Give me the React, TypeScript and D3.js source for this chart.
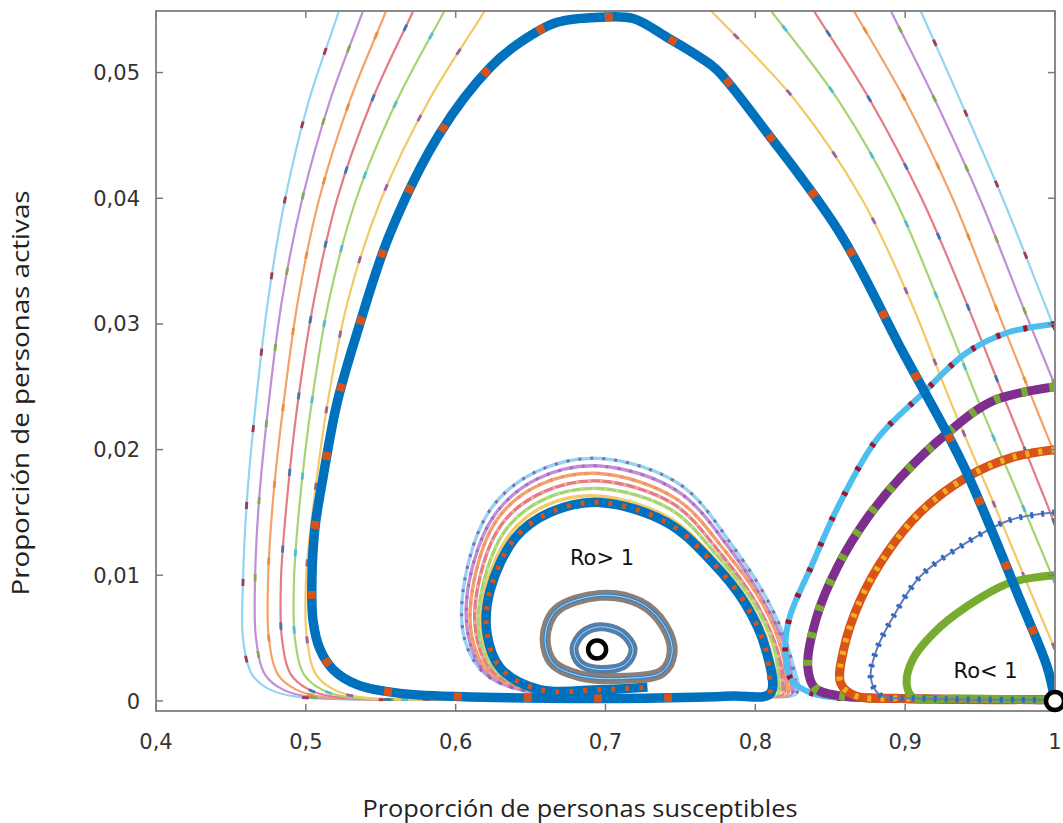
import React from 'react';
import * as d3 from 'd3';

type P = [number, number];

// ---------- axes ----------
const xTicks = [0.4, 0.5, 0.6, 0.7, 0.8, 0.9, 1.0];
const xTickLabels = ['0,4', '0,5', '0,6', '0,7', '0,8', '0,9', '1'];
const yTicks = [0, 0.01, 0.02, 0.03, 0.04, 0.05];
const yTickLabels = ['0', '0,01', '0,02', '0,03', '0,04', '0,05'];
const xTitle = 'Proporción de personas susceptibles';
const yTitle = 'Proporción de personas activas';

// ---------- Ro > 1 trajectories (S, I) ----------
// right branch (leaving through the top), left branch (re-entering), bottom run
const lightBlueOuter: P[] = [[1.0, 0.0295], [0.9921, 0.0319], [0.9654, 0.0399], [0.9367, 0.0478], [0.91, 0.055], [0.8893, 0.0605], [0.5362, 0.0605], [0.5215, 0.0547], [0.5021, 0.0478], [0.4861, 0.0399], [0.4748, 0.0319], [0.4668, 0.0239], [0.4607, 0.016], [0.4581, 0.0096], [0.4581, 0.0049], [0.4641, 0.0021], [0.4761, 0.0009], [0.4961, 0.0003], [0.63, 0.0002], [0.75, 0.0003], [0.8, 0.0004]];
const lightBlueHump: P[] = [[0.828, 0.0006], [0.823, 0.0038], [0.81, 0.0076], [0.785, 0.0123], [0.75, 0.0172], [0.696, 0.0193], [0.653, 0.0182], [0.623, 0.0152], [0.606, 0.0096], [0.606, 0.0049], [0.62, 0.0021], [0.65, 0.0007], [0.696, 0.0006]];

const purpleOuter: P[] = [[1.0, 0.0251], [0.9768, 0.0319], [0.9501, 0.0399], [0.92, 0.0478], [0.89, 0.055], [0.8666, 0.0605], [0.5555, 0.0605], [0.5375, 0.0547], [0.5162, 0.0478], [0.4975, 0.0399], [0.4841, 0.0319], [0.4754, 0.0239], [0.4688, 0.016], [0.4661, 0.0096], [0.4668, 0.0049], [0.4728, 0.0021], [0.4848, 0.0009], [0.5041, 0.0003], [0.63, 0.0002], [0.75, 0.0003], [0.797, 0.0004]];
const purpleHump: P[] = [[0.825, 0.0006], [0.821, 0.0039], [0.807, 0.0076], [0.783, 0.0121], [0.748, 0.0167], [0.696, 0.0187], [0.655, 0.0177], [0.626, 0.0148], [0.609, 0.0095], [0.609, 0.0049], [0.621, 0.0021], [0.651, 0.0007], [0.696, 0.0006]];

const orangeOuter: P[] = [[1.0, 0.0196], [0.9854, 0.0239], [0.9587, 0.0319], [0.932, 0.0399], [0.9, 0.0478], [0.8653, 0.055], [0.8386, 0.0605], [0.5722, 0.0605], [0.5529, 0.0547], [0.5295, 0.0478], [0.5088, 0.0399], [0.4948, 0.0319], [0.4854, 0.0239], [0.4781, 0.016], [0.4748, 0.0096], [0.4754, 0.0049], [0.4814, 0.0021], [0.4935, 0.0009], [0.5121, 0.0003], [0.63, 0.0002], [0.75, 0.0003], [0.794, 0.0004]];
const orangeHump: P[] = [[0.822, 0.0006], [0.818, 0.0039], [0.805, 0.0077], [0.78, 0.0119], [0.747, 0.0161], [0.696, 0.0181], [0.656, 0.0172], [0.628, 0.0145], [0.612, 0.0094], [0.611, 0.005], [0.623, 0.0022], [0.652, 0.0008], [0.696, 0.0007]];

const redOuter: P[] = [[1.0, 0.014], [0.9935, 0.016], [0.9668, 0.0239], [0.9401, 0.0319], [0.9113, 0.0399], [0.8766, 0.0478], [0.8386, 0.055], [0.8092, 0.0605], [0.5936, 0.0605], [0.5709, 0.0547], [0.5442, 0.0478], [0.5208, 0.0399], [0.5055, 0.0319], [0.4948, 0.0239], [0.4874, 0.016], [0.4834, 0.0096], [0.4841, 0.0049], [0.4901, 0.0021], [0.5021, 0.0009], [0.5202, 0.0003], [0.63, 0.0002], [0.75, 0.0003], [0.791, 0.0004]];
const redHump: P[] = [[0.819, 0.0006], [0.815, 0.0039], [0.801, 0.0077], [0.777, 0.0117], [0.745, 0.0157], [0.696, 0.0175], [0.658, 0.0166], [0.631, 0.0141], [0.615, 0.0092], [0.614, 0.0051], [0.625, 0.0023], [0.653, 0.0008], [0.696, 0.0007]];

const greenOuter: P[] = [[1.0, 0.0094], [0.9768, 0.016], [0.9487, 0.0239], [0.922, 0.0319], [0.8933, 0.0399], [0.8553, 0.0478], [0.8099, 0.055], [0.7745, 0.0605], [0.6176, 0.0605], [0.5916, 0.0547], [0.5609, 0.0478], [0.5335, 0.0399], [0.5155, 0.0319], [0.5041, 0.0239], [0.4961, 0.016], [0.4921, 0.0096], [0.4928, 0.0049], [0.4988, 0.0021], [0.5108, 0.0009], [0.5282, 0.0003], [0.64, 0.0002], [0.75, 0.0003], [0.788, 0.0004]];
const greenHump: P[] = [[0.816, 0.0006], [0.813, 0.004], [0.799, 0.0078], [0.775, 0.0115], [0.744, 0.0152], [0.696, 0.0169], [0.66, 0.0161], [0.634, 0.0137], [0.618, 0.0091], [0.616, 0.0051], [0.626, 0.0025], [0.654, 0.0008], [0.696, 0.0008]];

const yellowOuter: P[] = [[1.0, 0.0041], [0.9861, 0.008], [0.9581, 0.016], [0.93, 0.0239], [0.9033, 0.0319], [0.8713, 0.0399], [0.8266, 0.0478], [0.7698, 0.055], [0.7258, 0.0605], [0.6483, 0.0605], [0.6183, 0.0547], [0.5822, 0.0478], [0.5502, 0.0399], [0.5282, 0.0319], [0.5148, 0.0239], [0.5055, 0.016], [0.5001, 0.0096], [0.5008, 0.0049], [0.5068, 0.0021], [0.5188, 0.0009], [0.5362, 0.0003], [0.65, 0.0002], [0.75, 0.0003], [0.785, 0.0004]];
const yellowHump: P[] = [[0.813, 0.0006], [0.81, 0.004], [0.796, 0.0078], [0.772, 0.0114], [0.742, 0.0146], [0.696, 0.0163], [0.661, 0.0156], [0.637, 0.0134], [0.62, 0.009], [0.618, 0.0052], [0.628, 0.0025], [0.655, 0.0009], [0.696, 0.0008]];

const blueOuter: P[] = [[1.0, 0.0], [0.9948, 0.0027], [0.9768, 0.008], [0.9587, 0.0133], [0.9414, 0.0181], [0.928, 0.0213], [0.8987, 0.0277], [0.8566, 0.0372], [0.8079, 0.0452], [0.7745, 0.0502], [0.7632, 0.0512], [0.7411, 0.0528], [0.7184, 0.0543], [0.6964, 0.0544], [0.6677, 0.054], [0.643, 0.0524], [0.623, 0.0504], [0.5896, 0.0452], [0.5562, 0.0372], [0.5342, 0.0293], [0.5208, 0.0237], [0.5115, 0.0178], [0.5061, 0.0138], [0.5041, 0.0099], [0.5048, 0.0064], [0.5095, 0.0041], [0.5182, 0.0025], [0.5342, 0.0013], [0.5629, 0.0006], [0.6183, 0.0003], [0.6964, 0.0002], [0.76, 0.0003], [0.785, 0.0004]];
const blueHump: P[] = [[0.81, 0.0006], [0.807, 0.0041], [0.793, 0.0078], [0.77, 0.0112], [0.741, 0.0142], [0.696, 0.0158], [0.663, 0.015], [0.64, 0.013], [0.623, 0.0088], [0.621, 0.0053], [0.63, 0.0026], [0.656, 0.0009], [0.696, 0.0009], [0.728, 0.0011]];

// inner loops around the endemic equilibrium
const ringOuter: P[] = [[0.6964, 0.0084], [0.7231, 0.0078], [0.7391, 0.006], [0.7445, 0.0039], [0.7378, 0.0023], [0.7131, 0.0018], [0.683, 0.002], [0.665, 0.003], [0.6597, 0.005], [0.667, 0.0072]];
const ringInner: P[] = [[0.6964, 0.0059], [0.7111, 0.0054], [0.7184, 0.0041], [0.7131, 0.0029], [0.6964, 0.0025], [0.683, 0.003], [0.679, 0.0042], [0.685, 0.0054]];

// ---------- Ro < 1 trajectories ----------
const arcLightBlue: P[] = [[1.0, 0.03], [0.968, 0.0293], [0.941, 0.0277], [0.912, 0.0245], [0.881, 0.0208], [0.855, 0.0154], [0.837, 0.0106], [0.823, 0.0067], [0.82, 0.0041], [0.824, 0.0017], [0.838, 0.0006], [0.863, 0.0002], [0.93, 0.0002], [1.0, 0.0001]];
const arcPurple: P[] = [[1.0, 0.025], [0.959, 0.0239], [0.928, 0.0213], [0.897, 0.0178], [0.875, 0.0146], [0.855, 0.0107], [0.841, 0.0067], [0.835, 0.0027], [0.84, 0.001], [0.857, 0.0004], [0.897, 0.0002], [1.0, 0.0001]];
const arcOrange: P[] = [[1.0, 0.02], [0.972, 0.0194], [0.941, 0.0178], [0.91, 0.015], [0.888, 0.0118], [0.87, 0.008], [0.859, 0.0041], [0.857, 0.0014], [0.867, 0.0004], [0.897, 0.0002], [1.0, 0.0001]];
const arcDotted: P[] = [[1.0, 0.015], [0.97, 0.0144], [0.937, 0.0123], [0.91, 0.0099], [0.892, 0.0067], [0.881, 0.0041], [0.877, 0.0019], [0.883, 0.0005], [0.91, 0.0002], [1.0, 0.0001]];
const arcGreen: P[] = [[1.0, 0.01], [0.97, 0.0094], [0.941, 0.0075], [0.919, 0.0054], [0.905, 0.0033], [0.901, 0.0014], [0.905, 0.0003], [0.937, 0.0002], [1.0, 0.0001]];

const equilibria: P[] = [[0.6944, 0.0041], [1.0, 0.0]];
const annotations = [
  { text: 'Ro> 1', s: 0.6977, i: 0.0108 },
  { text: 'Ro< 1', s: 0.9537, i: 0.0018 },
];

const thinTrajectories = [
  { outer: lightBlueOuter, hump: lightBlueHump, color: '#93d5f1', mark: '#a2142f', humpMark: '#8e5aa8' },
  { outer: purpleOuter, hump: purpleHump, color: '#c28ed6', mark: '#77ac30', humpMark: '#a06ab8' },
  { outer: orangeOuter, hump: orangeHump, color: '#f2a36c', mark: '#e88a2a', humpMark: '#f08a7a' },
  { outer: redOuter, hump: redHump, color: '#e47b86', mark: '#1f6fb5', humpMark: '#f0b0a0' },
  { outer: greenOuter, hump: greenHump, color: '#a6d472', mark: '#3fb6e0', humpMark: '#bfe090' },
  { outer: yellowOuter, hump: yellowHump, color: '#f3c966', mark: '#8a4aa0', humpMark: '#f3d27a' },
];

const W = 1063;
const H = 823;
const L = 156, R = 1055, T = 11, B = 711;

export default function App() {
  const x = d3.scaleLinear().domain([0.4, 1.0]).range([L, R]);
  const y = d3.scaleLinear().domain([-0.0008, 0.0549]).range([B, T]);
  const line = d3.line<P>().x(d => x(d[0])).y(d => y(d[1])).curve(d3.curveCatmullRom.alpha(0.5));
  const loop = d3.line<P>().x(d => x(d[0])).y(d => y(d[1])).curve(d3.curveCatmullRomClosed.alpha(0.5));
  const tickColor = '#7c7c7c';

  return (
    <svg width={W} height={H} style={{ position: 'absolute', left: 0, top: 0, background: '#fff' }}>
      <defs>
        <clipPath id="plot">
          <rect x={L} y={T} width={R - L} height={B - T} />
        </clipPath>
      </defs>
      <rect x={0} y={0} width={W} height={H} fill="#fff" />
      <g clipPath="url(#plot)" fill="none" strokeLinejoin="round">
        {/* thin Ro>1 trajectories */}
        {thinTrajectories.map((t, i) => (
          <path key={'tb' + i} d={line([...t.outer, ...t.hump]) || ''} stroke={t.color} strokeWidth={2.2} />
        ))}
        {thinTrajectories.map((t, i) => (
          <path key={'th' + i} d={line(t.hump) || ''} stroke={t.color} strokeWidth={3.4} />
        ))}
        {thinTrajectories.map((t, i) => (
          <g key={'tm' + i}>
            <path d={line(t.outer) || ''} stroke={t.mark} strokeWidth={3} strokeDasharray="7 70" opacity={0.8} />
            <path d={line(t.hump) || ''} stroke={t.humpMark} strokeWidth={3} strokeDasharray="3 9" opacity={0.9} />
          </g>
        ))}
        {/* Ro<1 arcs */}
        <path d={line(arcLightBlue) || ''} stroke="#4dbeee" strokeWidth={6} />
        <path d={line(arcLightBlue) || ''} stroke="#a2142f" strokeWidth={6} strokeDasharray="4 24" />
        <path d={line(arcPurple) || ''} stroke="#7e2f8e" strokeWidth={9} />
        <path d={line(arcPurple) || ''} stroke="#77ac30" strokeWidth={9} strokeDasharray="6 22" />
        <path d={line(arcOrange) || ''} stroke="#d95319" strokeWidth={9} />
        <path d={line(arcOrange) || ''} stroke="#edb120" strokeWidth={6} strokeDasharray="4 9" />
        <path d={line(arcGreen) || ''} stroke="#77ac30" strokeWidth={8} />
        <path d={line(arcDotted) || ''} stroke="#6a78b8" strokeWidth={2} />
        <path d={line(arcDotted) || ''} stroke="#2a6cc0" strokeWidth={6} strokeDasharray="3 8" />
        {/* main blue trajectory */}
        <path d={line([...blueOuter, ...blueHump]) || ''} stroke="#0072bd" strokeWidth={9.5} />
        <path d={line(blueOuter) || ''} stroke="#d95319" strokeWidth={8} strokeDasharray="8 62" />
        <path d={line(blueHump) || ''} stroke="#d95319" strokeWidth={5} strokeDasharray="4 10" />
        {/* inner loops */}
        <path d={loop(ringOuter) || ''} stroke="#8b7f78" strokeWidth={11} />
        <path d={loop(ringOuter) || ''} stroke="#3c82c4" strokeWidth={3.5} />
        <path d={loop(ringOuter) || ''} stroke="#a8dcf4" strokeWidth={1} />
        <path d={loop(ringInner) || ''} stroke="#5c7d9c" strokeWidth={9} />
        <path d={loop(ringInner) || ''} stroke="#3c82c4" strokeWidth={3.5} />
        <path d={loop(ringInner) || ''} stroke="#a8dcf4" strokeWidth={1} />
      </g>
      {/* frame */}
      <rect x={L} y={T} width={R - L} height={B - T} fill="none" stroke="#8a8a8a" strokeWidth={2} />
      {xTicks.map((t, i) => (
        <g key={'xt' + i}>
          <line x1={x(t)} x2={x(t)} y1={B} y2={B - 7} stroke={tickColor} strokeWidth={1.5} />
          <line x1={x(t)} x2={x(t)} y1={T} y2={T + 7} stroke={tickColor} strokeWidth={1.5} />
          <text x={x(t)} y={749} textAnchor="middle" fontFamily="DejaVu Sans, Verdana, sans-serif" fontSize={21} fill="#333">{xTickLabels[i]}</text>
        </g>
      ))}
      {yTicks.map((t, i) => (
        <g key={'yt' + i}>
          <line x1={L} x2={L + 7} y1={y(t)} y2={y(t)} stroke={tickColor} strokeWidth={1.5} />
          <line x1={R} x2={R - 7} y1={y(t)} y2={y(t)} stroke={tickColor} strokeWidth={1.5} />
          <text x={140} y={y(t)} dy="0.36em" textAnchor="end" fontFamily="DejaVu Sans, Verdana, sans-serif" fontSize={21} fill="#333">{yTickLabels[i]}</text>
        </g>
      ))}
      {/* equilibrium points */}
      {equilibria.map((p, i) => (
        <circle key={'eq' + i} cx={x(p[0])} cy={y(p[1])} r={9} fill="#fff" stroke="#000" strokeWidth={4.5} />
      ))}
      {annotations.map((a, i) => (
        <text key={'an' + i} x={x(a.s)} y={y(a.i)} textAnchor="middle" fontFamily="DejaVu Sans, Verdana, sans-serif" fontSize={21} fill="#111">{a.text}</text>
      ))}
      <text x={580} y={817} textAnchor="middle" fontFamily="Open Sans, sans-serif" fontSize={23} fill="#222" textLength={435} lengthAdjust="spacingAndGlyphs">{xTitle}</text>
      <text transform="translate(29,393) rotate(-90)" textAnchor="middle" fontFamily="Open Sans, sans-serif" fontSize={23} fill="#222" textLength={405} lengthAdjust="spacingAndGlyphs">{yTitle}</text>
    </svg>
  );
}
